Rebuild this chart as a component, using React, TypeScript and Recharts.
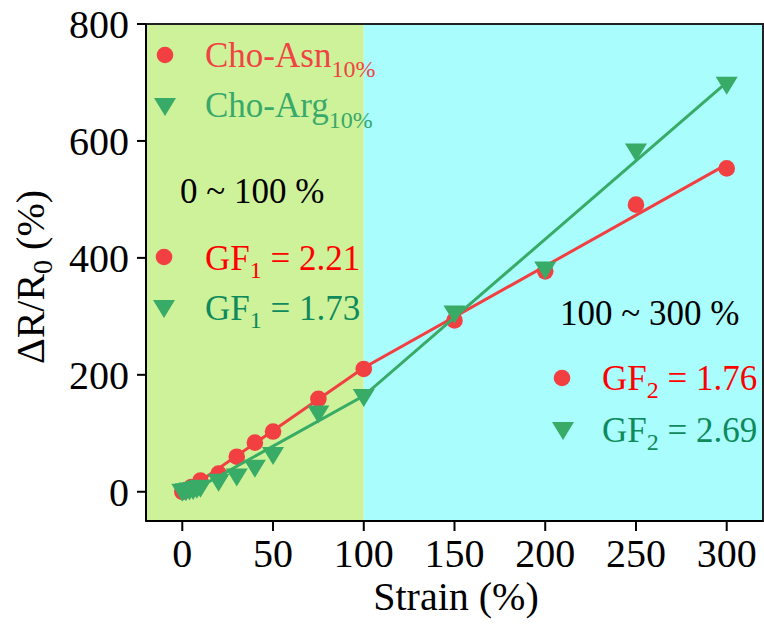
import { ComposedChart, Scatter, XAxis, YAxis, ReferenceArea } from 'recharts';

// Cho-Asn10% (red circles)
const asnStrain = [0, 5, 10, 20, 30, 40, 50, 75, 100, 150, 200, 250, 300];
const asnValue = [0, 8, 19, 31, 60, 84, 103, 159, 210, 293, 377, 491, 553];

// Cho-Arg10% (green triangles)
const argStrain = [0, 2, 4, 6, 8, 10, 20, 30, 40, 50, 75, 100, 150, 200, 250, 300];
const argValue = [0, 1, 2, 3, 5, 7, 17, 26, 41, 63, 134, 162, 305, 380, 582, 696];

// piecewise linear fits (0~100 %, 100~300 %)
const asnFitStrain = [0, 100, 300];
const asnFitValue = [-3, 212, 560];
const argFitStrain = [0, 100, 300];
const argFitValue = [-8, 164, 700];

const xTicks = [0, 50, 100, 150, 200, 250, 300];
const yTicks = [0, 200, 400, 600, 800];

const RED = '#f23f42';
const GREEN = '#38ab67';
const FONT = 'Liberation Serif, DejaVu Serif, Times New Roman, serif';

const zip = (xs: number[], ys: number[]) => xs.map((x, i) => ({ x, y: ys[i] }));

const asnData = zip(asnStrain, asnValue);
const argData = zip(argStrain, argValue);
const asnFit = zip(asnFitStrain, asnFitValue);
const argFit = zip(argFitStrain, argFitValue);

const triPath = (x: number, y: number) => `M${x - 11},${y - 8} L${x + 11},${y - 8} L${x},${y + 10} Z`;

const Circle = (p: any) => <circle cx={p.cx} cy={p.cy} r={8.3} fill={RED} />;
const Tri = (p: any) => <path d={triPath(p.cx, p.cy)} fill={GREEN} />;
const NoShape = () => <g />;

function Overlay() {
  return (
    <svg width={764} height={627} style={{ position: 'absolute', left: 0, top: 0, pointerEvents: 'none', fontFamily: FONT }}>
      {/* legend */}
      <circle cx={165} cy={55} r={8.3} fill={RED} />
      <text x={205} y={67} fontSize={35} fill="#f04444">
        Cho-Asn<tspan fontSize={24} dy={10}>10%</tspan>
      </text>
      <path d={triPath(165, 106)} fill={GREEN} />
      <text x={205} y={117} fontSize={35} fill="#38a96a">
        Cho-Arg<tspan fontSize={24} dy={11}>10%</tspan>
      </text>

      {/* 0 ~ 100 % */}
      <text x={180} y={203} fontSize={35} fill="#000">0 ~ 100 %</text>
      <circle cx={164} cy={257} r={8.3} fill={RED} />
      <text x={205} y={270} fontSize={35} fill="#ff0000">
        GF<tspan fontSize={24} dy={8}>1</tspan><tspan dy={-8}> = 2.21</tspan>
      </text>
      <path d={triPath(164, 308)} fill={GREEN} />
      <text x={205} y={320} fontSize={35} fill="#0e8a5c">
        GF<tspan fontSize={24} dy={8}>1</tspan><tspan dy={-8}> = 1.73</tspan>
      </text>

      {/* 100 ~ 300 % */}
      <text x={560} y={325} fontSize={35} fill="#000">100 ~ 300 %</text>
      <circle cx={562} cy={378} r={8.3} fill={RED} />
      <text x={602} y={390} fontSize={35} fill="#ff0000">
        GF<tspan fontSize={24} dy={8}>2</tspan><tspan dy={-8}> = 1.76</tspan>
      </text>
      <path d={triPath(563, 430)} fill={GREEN} />
      <text x={602} y={442} fontSize={35} fill="#0e8a5c">
        GF<tspan fontSize={24} dy={8}>2</tspan><tspan dy={-8}> = 2.69</tspan>
      </text>

      {/* axis titles */}
      <text x={456} y={610} fontSize={40} textAnchor="middle" fill="#000">Strain (%)</text>
      <text x={44} y={277} fontSize={40} textAnchor="middle" fill="#000" transform="rotate(-90 44 277)">
        ΔR/R<tspan fontSize={28} dy={8}>0</tspan><tspan dy={-8}> (%)</tspan>
      </text>
    </svg>
  );
}

export default function App() {
  const tickStyle = { fontFamily: FONT, fontSize: 40, fill: '#000' };
  return (
    <div style={{ position: 'relative', width: 764, height: 627, background: '#fff', fontFamily: FONT }}>
      <style>{`body{margin:0}`}</style>
      <ComposedChart width={764} height={627} margin={{ top: 24, right: 1, bottom: 0, left: 0 }} style={{ fontFamily: FONT }}>
        <XAxis
          type="number"
          dataKey="x"
          domain={[-20, 320]}
          ticks={xTicks}
          allowDataOverflow
          height={106}
          tickSize={10}
          tickMargin={8}
          tick={tickStyle}
          axisLine={{ stroke: '#000', strokeWidth: 2 }}
          tickLine={{ stroke: '#000', strokeWidth: 2 }}
        />
        <YAxis
          type="number"
          dataKey="y"
          domain={[-50, 800]}
          ticks={yTicks}
          allowDataOverflow
          width={146}
          tickSize={9}
          tickMargin={8}
          tick={tickStyle}
          axisLine={{ stroke: '#000', strokeWidth: 2 }}
          tickLine={{ stroke: '#000', strokeWidth: 2 }}
        />
        <ReferenceArea x1={-20} x2={100} y1={-50} y2={800} fill="#cef29a" fillOpacity={1} stroke="none" />
        <ReferenceArea x1={100} x2={320} y1={-50} y2={800} fill="#aafdfd" fillOpacity={1} stroke="none" />
        <Scatter data={asnFit} line={{ stroke: RED, strokeWidth: 3 }} shape={NoShape} isAnimationActive={false} />
        <Scatter data={asnData} shape={Circle} isAnimationActive={false} />
        <Scatter data={argFit} line={{ stroke: GREEN, strokeWidth: 3 }} shape={NoShape} isAnimationActive={false} />
        <Scatter data={argData} shape={Tri} isAnimationActive={false} />
        <ReferenceArea x1={-20} x2={320} y1={-50} y2={800} fill="none" stroke="#222" strokeWidth={2} />
      </ComposedChart>
      <Overlay />
    </div>
  );
}
